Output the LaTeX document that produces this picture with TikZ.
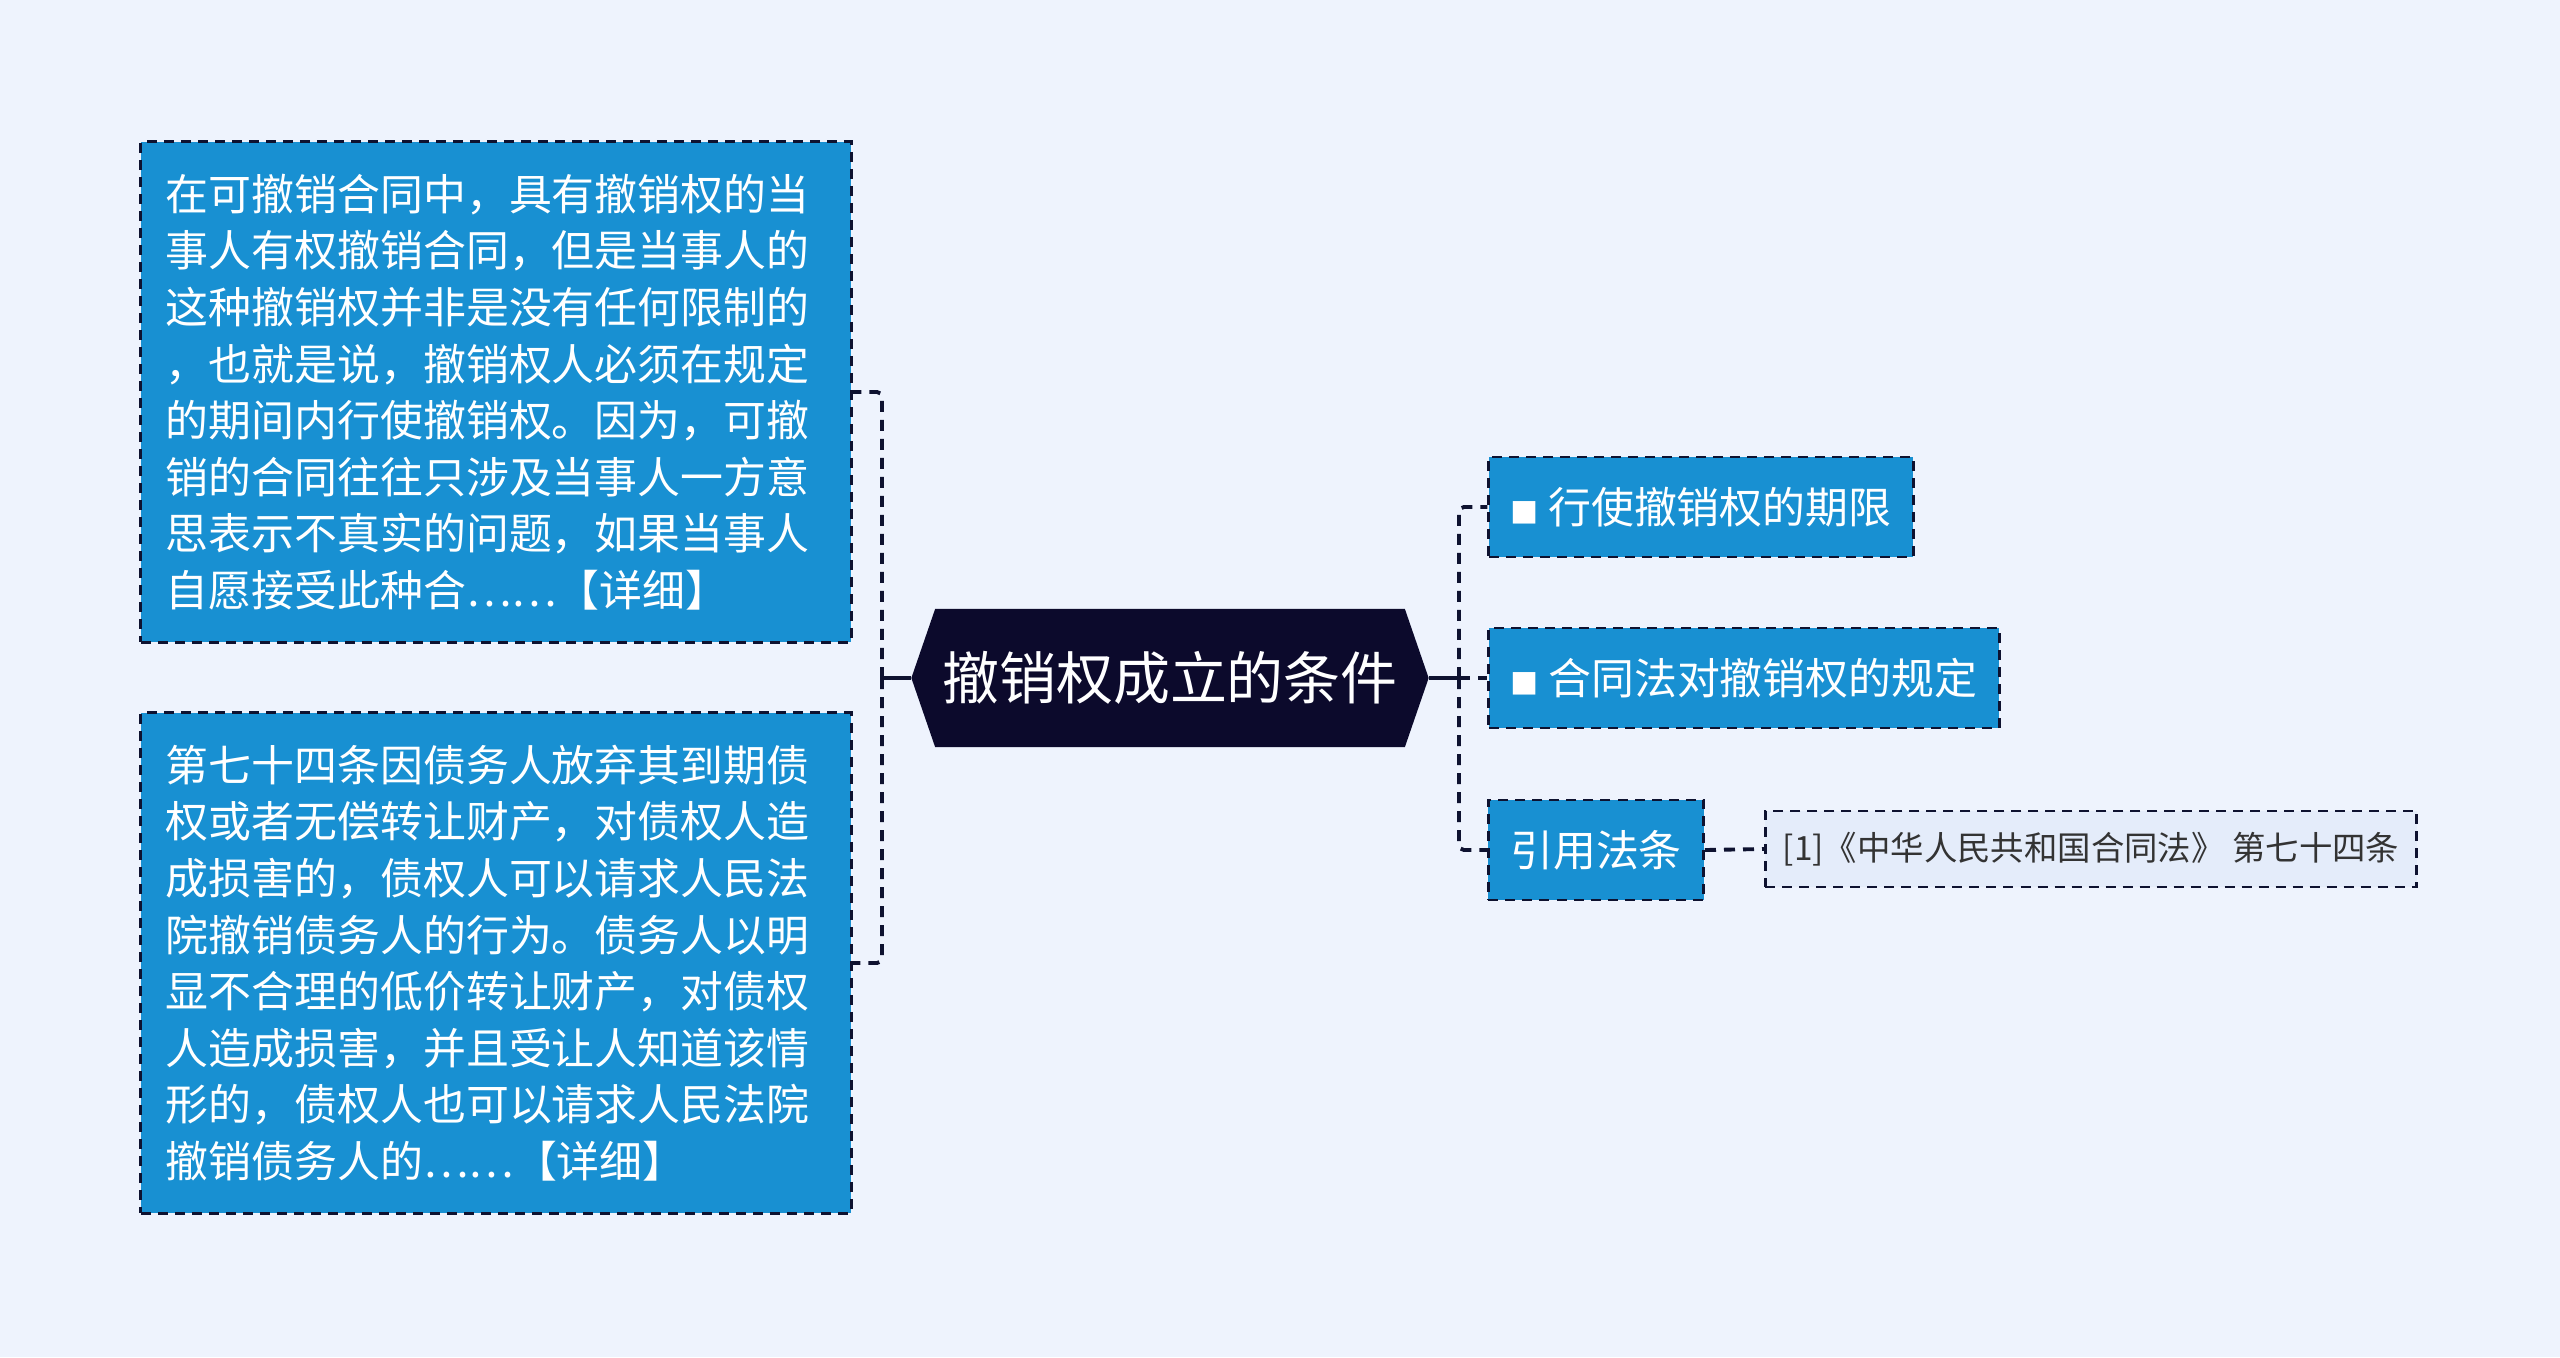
\documentclass[tikz,border=0pt]{standalone}
\usepackage{fontspec}
\setmainfont{Noto Sans CJK SC}
\usetikzlibrary{shapes.symbols}
\definecolor{bgcol}{HTML}{EEF3FD}
\definecolor{boxblue}{HTML}{1890D2}
\definecolor{rootcol}{HTML}{0C0A2C}
\definecolor{linecol}{HTML}{0E1230}
\definecolor{lawfill}{HTML}{E4ECFA}
\definecolor{lawtext}{HTML}{333333}

\begin{document}
\begin{tikzpicture}[x=0.01cm,y=-0.01cm,
  link/.style={line width=1.1pt,draw=linecol},
  dlink/.style={link,dash pattern=on 0.11cm off 0.08cm,rounded corners=0.05cm},
  boxline/.style={draw=linecol,line width=0.8pt,dash pattern=on 0.1cm off 0.07cm},
  topic/.style={signal,signal to=west and east,signal pointer angle=142,fill=rootcol,
    text=white,minimum width=5.17cm,minimum height=1.38cm,inner sep=0pt,
    font=\fontsize{16.2pt}{19pt}\selectfont},
  detail/.style={boxline,fill=boxblue,text=white,text width=6.6cm,align=left,
    minimum width=7.1cm,minimum height=5cm,font=\fontsize{12.2pt}{16.1pt}\selectfont},
  sub/.style={boxline,fill=boxblue,text=white,minimum height=1cm,
    font=\fontsize{12.2pt}{14pt}\selectfont},
  law/.style={boxline,fill=lawfill,text=lawtext,minimum height=0.76cm,
    font=\fontsize{9.5pt}{11pt}\selectfont}]
  \newcommand*{\Bullet}{{\fontsize{8pt}{8pt}\selectfont ■}\ }
  \useasboundingbox (0,0) rectangle (2560,1357);
  \fill[bgcol] (0,0) rectangle (2560,1357);
  \node[topic] (root) at (1170,678) {撤销权成立的条件};
  \node[detail] (detA) at (496,392) {在可撤销合同中，具有撤销权的当\\事人有权撤销合同，但是当事人的\\这种撤销权并非是没有任何限制的\\，也就是说，撤销权人必须在规定\\的期间内行使撤销权。因为，可撤\\销的合同往往只涉及当事人一方意\\思表示不真实的问题，如果当事人\\自愿接受此种合……【详细】};
  \node[detail] (detB) at (496,963) {第七十四条因债务人放弃其到期债\\权或者无偿转让财产，对债权人造\\成损害的，债权人可以请求人民法\\院撤销债务人的行为。债务人以明\\显不合理的低价转让财产，对债权\\人造成损害，并且受让人知道该情\\形的，债权人也可以请求人民法院\\撤销债务人的……【详细】};
  \node[sub,minimum width=4.24cm] (limit) at (1701,507) {\Bullet 行使撤销权的期限};
  \node[sub,minimum width=5.10cm] (rule) at (1744,678) {\Bullet 合同法对撤销权的规定};
  \node[sub,minimum width=2.15cm] (cite) at (1596,850) {引用法条};
  \node[law,minimum width=6.51cm] (lawref) at (2091,849) {[1]《中华人民共和国合同法》 第七十四条};
  \coordinate (lbus) at (882,678);
  \coordinate (rbus) at (1459,678);
  \draw[link] (root.west) -- (lbus);
  \draw[dlink] (lbus) |- (detA.east);
  \draw[dlink] (lbus) |- (detB.east);
  \draw[link] (root.east) -- (rbus);
  \draw[dlink] (rbus) |- (limit.west);
  \draw[dlink] (rbus) -- (rule.west);
  \draw[dlink] (rbus) |- (cite.west);
  \draw[dlink] (cite.east) -- (lawref.west);
\end{tikzpicture}
\end{document}
